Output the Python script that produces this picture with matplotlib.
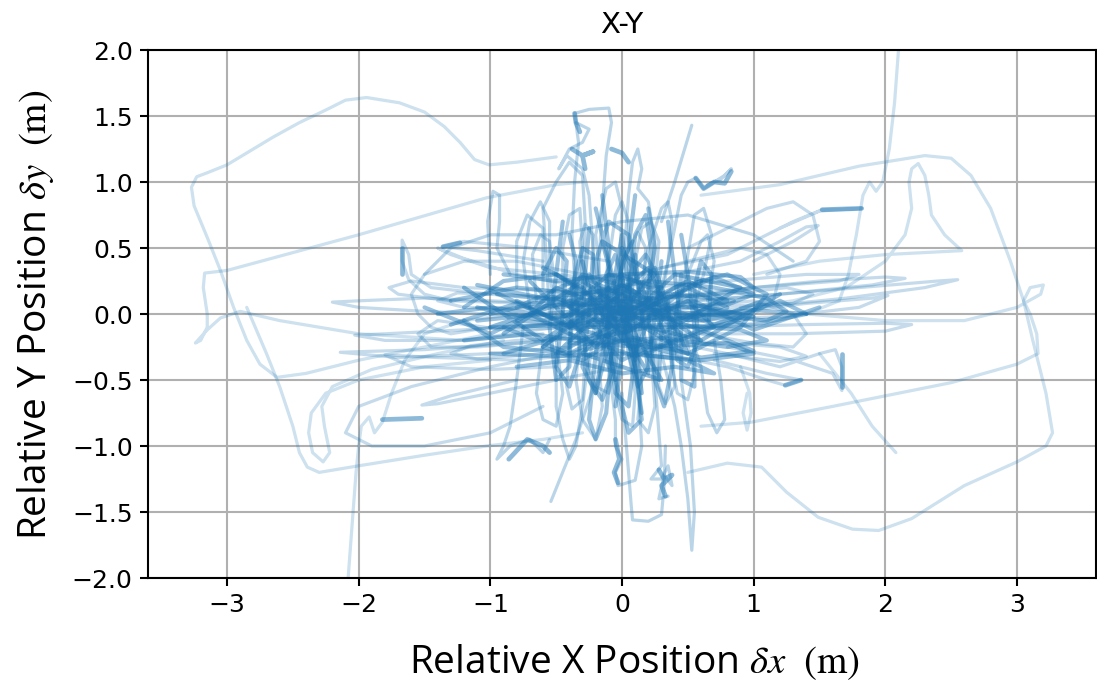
import matplotlib
matplotlib.use("Agg")
import matplotlib.pyplot as plt

# ---------------- data (metres) ----------------
title = "X-Y"
x_ticks = [-3, -2, -1, 0, 1, 2, 3]
y_ticks = [-2.0, -1.5, -1.0, -0.5, 0.0, 0.5, 1.0, 1.5, 2.0]

outer_paths = [
    [(-0.5,1.19),(-0.8,1.15),(-1.01,1.13),(-1.12,1.17),(-1.23,1.30),(-1.35,1.42),(-1.5,1.53),(-1.69,1.60),
     (-1.94,1.64),(-2.1,1.62),(-2.24,1.55),(-2.45,1.45),(-2.65,1.34),(-2.85,1.22),(-3.0,1.13),(-3.15,1.07),
     (-3.23,1.04),(-3.27,0.96),(-3.25,0.82),(-3.15,0.58),(-3.05,0.33),(-2.95,0.05),(-2.85,-0.2),(-2.75,-0.38),
     (-2.62,-0.48),(-2.4,-0.45),(-2.0,-0.35),(-1.5,-0.25),(-1.0,-0.15)],
    [(-0.3,1.0),(-0.5,0.98),(-1.03,0.88),(-2.0,0.6),(-3.0,0.33),(-3.17,0.31),(-3.18,0.2),(-3.15,0.0),
     (-3.15,-0.1),(-3.2,-0.2),(-3.24,-0.22),(-3.15,-0.12),(-3.05,-0.03),(-2.9,0.02),(-2.6,-0.05),(-2.0,-0.15),
     (-1.2,-0.2),(-0.5,-0.1)],
    [(-2.08,-2.0),(-2.05,-1.6),(-2.02,-1.2),(-2.0,-1.0),(-1.98,-0.85),(-1.92,-0.78),(-1.88,-0.9),(-1.82,-0.82),
     (-1.75,-0.6),(-1.65,-0.35),(-1.5,-0.15),(-1.2,-0.05),(-0.8,0.0)],
    [(-2.85,0.05),(-2.7,-0.3),(-2.6,-0.55),(-2.5,-0.85),(-2.45,-1.05),(-2.39,-1.16),(-2.3,-1.2),(-2.0,-1.15),
     (-1.5,-1.07),(-1.03,-1.0),(-0.6,-0.95),(-0.3,-0.9)],
    [(-1.0,-0.35),(-1.5,-0.4),(-2.0,-0.5),(-2.25,-0.6),(-2.36,-0.75),(-2.38,-0.9),(-2.35,-1.05),(-2.27,-1.12),
     (-2.22,-1.05),(-2.26,-0.85),(-2.28,-0.7),(-2.2,-0.55),(-1.9,-0.42),(-1.4,-0.3),(-0.9,-0.2)],
    [(2.1,2.0),(2.07,1.6),(2.03,1.25),(1.98,1.0),(1.93,0.93),(1.88,1.0),(1.83,0.9),(1.78,0.6),(1.72,0.3),
     (1.65,0.1),(1.4,0.0),(1.0,-0.05)],
    [(0.5,-1.2),(0.8,-1.13),(1.06,-1.16),(1.25,-1.35),(1.49,-1.54),(1.75,-1.63),(1.95,-1.64),(2.2,-1.55),
     (2.6,-1.3),(3.0,-1.12),(3.22,-1.0),(3.27,-0.9),(3.22,-0.6),(3.12,-0.2),(3.05,0.1),(2.95,0.4),(2.8,0.8),
     (2.65,1.05),(2.5,1.18),(2.3,1.2),(1.8,1.12),(1.2,0.98),(0.6,0.9)],
    [(0.6,-0.85),(0.98,-0.82),(1.6,-0.7),(2.5,-0.52),(3.0,-0.38),(3.16,-0.3),(3.15,-0.15),(3.1,0.0),(3.05,0.1),
     (3.1,0.2),(3.2,0.22),(3.18,0.15),(3.0,0.05),(2.6,-0.05),(2.0,-0.05),(1.4,0.0)],
    [(1.0,0.3),(1.5,0.4),(2.0,0.45),(2.58,0.48),(2.45,0.6),(2.35,0.75),(2.33,0.9),(2.3,1.05),(2.25,1.14),
     (2.2,1.1),(2.18,1.0),(2.2,0.8),(2.15,0.6),(2.0,0.4),(1.7,0.2),(1.3,0.1),(0.9,0.05)],
    [(1.5,-0.3),(1.74,-0.6),(1.9,-0.85),(2.08,-1.05)],
    [(0.95,-0.6),(0.92,-0.75),(0.95,-0.88),(0.98,-0.75),(0.97,-0.6),(0.9,-0.4)],
]

upper_arm = [
    [(-0.35,0.1),(-0.38,0.6),(-0.36,1.0),(-0.33,1.3),(-0.36,1.52),(-0.25,1.55),(-0.1,1.56),(-0.08,1.45),(-0.12,1.2),(-0.15,0.8),(-0.18,0.3)],
    [(-0.55,0.0),(-0.58,0.5),(-0.6,0.8),(-0.5,1.0),(-0.4,1.15),(-0.3,1.05),(-0.28,0.7),(-0.3,0.2)],
    [(-0.2,0.0),(-0.22,0.5),(-0.25,0.9),(-0.3,1.1),(-0.42,1.2),(-0.48,1.1),(-0.4,1.25),(-0.3,1.3),(-0.25,1.4),(-0.35,1.45)],
    [(0.0,0.0),(0.02,0.5),(0.05,0.9),(0.08,1.15),(0.12,1.25),(0.15,1.1),(0.12,0.95),(0.2,0.85),(0.25,0.55),(0.22,0.1)],
    [(0.1,0.0),(0.2,0.5),(0.3,0.8),(0.35,0.85),(0.38,0.7),(0.35,0.4),(0.3,0.1)],
    [(0.25,0.0),(0.35,0.4),(0.45,0.9),(0.5,1.0),(0.56,1.03),(0.62,0.95),(0.7,1.0),(0.78,1.05),(0.83,1.1),(0.75,1.02),(0.65,0.98)],
    [(-0.7,0.05),(-0.75,0.4),(-0.7,0.7),(-0.62,0.85),(-0.55,0.7),(-0.55,0.3),(-0.5,0.0)],
    [(-0.1,0.0),(-0.1,0.4),(-0.05,0.75),(0.0,0.85),(0.05,0.7),(0.05,0.3),(0.08,0.0)],
    [(0.4,0.0),(0.5,0.3),(0.6,0.55),(0.65,0.6),(0.7,0.4),(0.65,0.1)],
    [(0.3,0.7),(0.4,1.0),(0.53,1.43)],
    [(-0.45,0.0),(-0.45,0.5),(-0.4,0.75),(-0.32,0.8),(-0.3,0.5),(-0.35,0.1)],
    [(-0.15,0.1),(-0.2,0.6),(-0.12,0.95),(-0.05,1.0),(0.0,0.8),(-0.02,0.3)],
    [(0.15,0.0),(0.1,0.4),(0.15,0.65),(0.22,0.7),(0.28,0.55),(0.25,0.2)],
    [(-0.8,0.2),(-0.8,0.55),(-0.72,0.75),(-0.6,0.65),(-0.6,0.2)],
    [(-1.0,0.3),(-1.02,0.7),(-0.98,0.93),(-0.93,0.9),(-0.93,0.7),(-0.95,0.5),(-0.85,0.3)],
    [(0.45,0.1),(0.5,0.45),(0.55,0.75),(0.62,0.8),(0.68,0.6),(0.62,0.3),(0.55,0.05)],
    [(-1.5,0.3),(-1.3,0.5),(-1.0,0.6),(-0.5,0.6),(0.0,0.7),(0.5,0.75),(1.0,0.6),(1.3,0.4)],
    [(-0.65,0.1),(-0.68,0.45),(-0.62,0.6),(-0.55,0.55),(-0.52,0.3)],
    [(0.05,0.2),(0.08,0.55),(0.12,0.62),(0.18,0.5),(0.16,0.15)],
    [(-0.3,0.2),(-0.32,0.55),(-0.28,0.68),(-0.22,0.6),(-0.22,0.3)],
]

lower_arm = [
    [(-0.1,0.0),(-0.1,-0.4),(-0.05,-0.8),(-0.05,-1.0),(0.0,-1.1),(-0.05,-1.2),(-0.03,-1.3),(0.1,-1.26),(0.15,-1.0),(0.12,-0.5),(0.1,0.0)],
    [(0.2,0.0),(0.25,-0.5),(0.28,-0.9),(0.3,-1.15),(0.22,-1.25),(0.3,-1.25),(0.35,-1.15),(0.38,-1.3),(0.32,-1.22),(0.28,-1.4),(0.35,-1.38)],
    [(0.3,-0.3),(0.4,-0.7),(0.45,-1.0),(0.5,-1.4),(0.53,-1.79),(0.55,-1.5),(0.52,-1.0),(0.45,-0.5)],
    [(0.0,-0.6),(0.05,-1.2),(0.07,-1.45),(0.08,-1.56),(0.2,-1.57),(0.3,-1.52),(0.32,-1.3),(0.33,-1.0)],
    [(-0.5,-0.3),(-0.5,-0.7),(-0.45,-0.95),(-0.4,-1.1),(-0.35,-1.0),(-0.3,-0.7),(-0.25,-0.3)],
    [(-0.2,-0.5),(-0.35,-0.95),(-0.54,-1.42)],
    [(-0.3,0.0),(-0.35,-0.5),(-0.3,-0.8),(-0.2,-0.95),(-0.15,-0.7),(-0.18,-0.3)],
    [(-0.75,-0.1),(-0.8,-0.5),(-0.85,-0.85),(-0.9,-1.0),(-0.95,-1.1),(-0.85,-1.0),(-0.7,-0.95),(-0.6,-1.05),(-0.55,-0.95)],
    [(0.5,-0.1),(0.6,-0.4),(0.65,-0.75),(0.72,-0.9),(0.78,-0.8),(0.75,-0.5),(0.7,-0.2)],
    [(0.1,-0.1),(0.15,-0.5),(0.12,-0.8),(0.2,-0.9),(0.25,-0.7),(0.22,-0.3)],
    [(-0.6,-0.2),(-0.65,-0.6),(-0.6,-0.8),(-0.5,-0.85),(-0.45,-0.6),(-0.5,-0.2)],
    [(-0.2,0.0),(-0.25,-0.4),(-0.2,-0.55),(-0.1,-0.6),(-0.05,-0.4),(-0.1,-0.1)],
    [(0.35,-0.1),(0.38,-0.4),(0.42,-0.6),(0.5,-0.65),(0.55,-0.45),(0.48,-0.15)],
    [(0.0,-0.3),(-0.05,-0.6),(0.0,-0.8),(0.08,-0.85),(0.1,-0.6),(0.05,-0.3)],
    [(-0.4,-0.2),(-0.42,-0.55),(-0.38,-0.72),(-0.3,-0.65),(-0.28,-0.35)],
    [(0.25,-0.2),(0.28,-0.55),(0.33,-0.68),(0.4,-0.55),(0.38,-0.25)],
]

left_arm = [
    [(0.0,0.05),(-0.5,0.08),(-1.0,0.1),(-1.5,0.12),(-2.0,0.1),(-2.2,0.09),(-2.0,0.05),(-1.5,0.02),(-1.0,0.0),(-0.5,-0.02)],
    [(0.0,-0.05),(-0.6,-0.08),(-1.2,-0.12),(-1.8,-0.15),(-2.03,-0.16),(-1.8,-0.2),(-1.2,-0.2),(-0.6,-0.15)],
    [(0.0,-0.15),(-0.8,-0.22),(-1.5,-0.27),(-2.14,-0.29),(-1.7,-0.33),(-1.0,-0.3),(-0.4,-0.25)],
    [(0.0,0.15),(-0.6,0.18),(-1.2,0.2),(-1.6,0.25),(-1.77,0.2),(-1.7,0.15),(-1.3,0.1),(-0.7,0.08)],
    [(-0.2,-0.3),(-0.8,-0.35),(-1.4,-0.33),(-1.8,-0.31),(-1.6,-0.4),(-1.0,-0.42),(-0.5,-0.4)],
    [(0.0,0.25),(-0.5,0.3),(-1.0,0.35),(-1.3,0.45),(-1.4,0.5),(-1.2,0.42),(-0.8,0.3),(-0.3,0.2)],
    [(-0.3,0.3),(-0.8,0.4),(-1.2,0.4),(-1.5,0.3),(-1.6,0.15),(-1.55,0.0),(-1.45,-0.1),(-1.3,-0.15),(-1.0,-0.1)],
    [(-0.2,-0.1),(-0.9,-0.12),(-1.4,-0.05),(-1.55,-0.15),(-1.45,-0.25),(-1.1,-0.25),(-0.5,-0.2)],
    [(-1.3,0.1),(-1.5,0.15),(-1.62,0.26),(-1.67,0.4),(-1.67,0.56),(-1.62,0.45),(-1.6,0.3),(-1.45,0.2),(-1.0,0.15)],
    [(0.0,-0.4),(-0.5,-0.5),(-1.0,-0.6),(-1.4,-0.68),(-1.52,-0.69),(-1.3,-0.62),(-0.8,-0.5)],
    [(-0.5,-0.3),(-1.0,-0.4),(-1.6,-0.55),(-2.0,-0.7),(-2.1,-0.9),(-1.9,-1.0),(-1.5,-1.0),(-1.0,-0.9),(-0.6,-0.7)],
    [(-0.1,0.4),(-0.7,0.5),(-1.2,0.55),(-1.36,0.51),(-1.1,0.48),(-0.6,0.4)],
    [(-0.3,0.12),(-0.8,0.14),(-1.25,0.16),(-1.4,0.1),(-1.2,0.05),(-0.7,0.04)],
    [(-0.3,-0.18),(-0.8,-0.2),(-1.15,-0.24),(-1.3,-0.3),(-1.1,-0.34),(-0.6,-0.3)],
]

right_arm = [
    [(0.0,0.05),(0.6,0.1),(1.2,0.15),(1.8,0.2),(2.4,0.25),(2.55,0.26),(2.3,0.2),(1.7,0.12),(1.0,0.05),(0.4,0.0)],
    [(0.0,-0.05),(0.7,0.0),(1.4,0.08),(1.9,0.12),(2.02,0.14),(1.8,0.05),(1.2,-0.02),(0.5,-0.05)],
    [(0.1,0.1),(0.8,0.18),(1.5,0.25),(2.0,0.28),(2.15,0.27),(1.9,0.22),(1.2,0.15),(0.5,0.1)],
    [(0.0,-0.1),(0.7,-0.1),(1.4,-0.08),(2.0,-0.07),(2.2,-0.08),(2.0,-0.13),(1.3,-0.15),(0.6,-0.15)],
    [(0.2,0.2),(0.8,0.25),(1.4,0.3),(1.8,0.3),(1.65,0.25),(1.0,0.2)],
    [(0.3,0.35),(0.8,0.45),(1.1,0.6),(1.3,0.7),(1.52,0.79),(1.82,0.8),(1.5,0.78),(1.2,0.65)],
    [(0.4,0.3),(0.9,0.4),(1.2,0.55),(1.4,0.66),(1.49,0.67),(1.3,0.55),(1.0,0.4)],
    [(0.3,-0.2),(0.8,-0.3),(1.2,-0.4),(1.5,-0.3),(1.62,-0.27),(1.67,-0.4),(1.67,-0.58),(1.6,-0.45),(1.3,-0.35),(0.8,-0.25)],
    [(0.3,-0.3),(0.8,-0.4),(1.1,-0.5),(1.24,-0.54),(1.36,-0.5),(1.1,-0.45),(0.7,-0.35)],
    [(0.1,0.3),(0.5,0.4),(0.9,0.5),(1.1,0.45),(1.2,0.3),(1.15,0.1),(1.0,0.0),(0.6,-0.1)],
    [(0.5,0.05),(1.0,0.1),(1.3,0.0),(1.4,-0.15),(1.3,-0.25),(1.0,-0.22),(0.6,-0.15)],
    [(0.5,0.5),(0.9,0.7),(1.1,0.8),(1.3,0.85),(1.45,0.75),(1.5,0.55),(1.4,0.4),(1.1,0.3)],
    [(0.3,0.12),(0.8,0.15),(1.25,0.2),(1.45,0.15),(1.3,0.08),(0.8,0.06)],
    [(0.3,-0.2),(0.8,-0.22),(1.2,-0.25),(1.4,-0.32),(1.2,-0.36),(0.7,-0.3)],
]

core_scribbles = [
    [(-0.8,0.1),(-0.4,-0.1),(0.0,0.15),(0.4,-0.05),(0.8,0.1),(0.5,0.25),(0.0,0.0),(-0.5,0.2),(-0.7,0.0),(-0.3,-0.2),(0.2,-0.1),(0.6,-0.2)],
    [(-0.6,-0.25),(-0.2,0.05),(0.1,-0.3),(0.3,0.2),(-0.1,0.3),(-0.4,0.05),(0.0,-0.15),(0.5,0.1),(0.7,-0.1),(0.3,-0.25)],
    [(-0.3,0.4),(-0.1,-0.4),(0.1,0.45),(0.2,-0.45),(-0.2,0.2),(0.3,0.1),(-0.4,-0.1),(0.4,-0.3),(0.0,0.5),(-0.05,-0.5)],
    [(-1.0,0.0),(-0.5,0.12),(0.0,-0.05),(0.5,0.08),(1.0,-0.02),(0.6,-0.12),(0.0,0.08),(-0.6,-0.05),(-1.1,0.05)],
    [(-0.2,-0.6),(0.0,0.6),(0.15,-0.6),(-0.15,0.55),(0.25,0.3),(-0.3,-0.3),(0.3,-0.5),(-0.1,0.2)],
    [(-0.9,-0.15),(-0.3,0.25),(0.3,-0.15),(0.9,0.2),(0.4,0.3),(-0.2,-0.25),(-0.7,0.25)],
    [(-0.5,0.3),(0.5,-0.3),(0.2,0.35),(-0.5,-0.3),(0.6,0.25),(-0.1,-0.1),(0.0,0.3),(0.1,-0.35)],
    [(-1.2,0.2),(-0.6,-0.2),(0.0,0.2),(0.6,-0.2),(1.2,0.15),(0.8,0.0),(0.2,-0.05),(-0.4,0.1),(-1.0,-0.1)],
]

core_vertical = [
    [(-0.4,-0.3),(-0.38,0.2),(-0.3,0.5),(-0.22,0.45),(-0.25,0.0),(-0.3,-0.4),(-0.2,-0.6),(-0.12,-0.3),(-0.1,0.3)],
    [(0.3,0.4),(0.25,0.0),(0.2,-0.4),(0.12,-0.55),(0.05,-0.3),(0.02,0.2),(-0.05,0.45),(-0.12,0.3),(-0.1,-0.2)],
    [(-0.05,-0.7),(0.0,-0.3),(0.05,0.1),(0.1,0.6),(0.18,0.75),(0.22,0.5),(0.2,0.0),(0.25,-0.5),(0.32,-0.7),(0.38,-0.4),(0.35,0.1)],
    [(-0.6,0.3),(-0.5,0.5),(-0.42,0.4),(-0.45,0.0),(-0.5,-0.4),(-0.4,-0.55),(-0.32,-0.3),(-0.35,0.2)],
    [(0.45,0.3),(0.4,-0.1),(0.42,-0.35),(0.5,-0.4),(0.58,-0.2),(0.55,0.2),(0.6,0.4),(0.68,0.3),(0.66,-0.05)],
    [(-0.25,0.65),(-0.28,0.3),(-0.3,-0.1),(-0.25,-0.5),(-0.15,-0.65),(-0.08,-0.45),(-0.05,0.0),(0.0,0.4),(0.08,0.55)],
    [(0.15,-0.75),(0.1,-0.4),(0.05,0.0),(0.1,0.35),(0.18,0.45),(0.26,0.3),(0.3,-0.1),(0.28,-0.5)],
    [(-0.15,0.9),(-0.1,0.5),(-0.12,0.1),(-0.2,-0.3),(-0.25,-0.8),(-0.2,-0.95),(-0.12,-0.75),(-0.08,-0.3)],
    [(-0.2,0.8),(-0.1,0.4),(0.0,0.0),(0.1,-0.4),(0.15,-0.8),(0.05,-0.9),(-0.05,-0.5),(-0.15,0.0),(-0.2,0.4),(-0.1,0.7),(0.05,0.6),(0.12,0.2)],
    [(0.1,0.9),(0.05,0.5),(-0.05,0.2),(-0.1,-0.2),(-0.05,-0.6),(0.05,-0.7),(0.1,-0.3),(0.18,0.1),(0.25,0.5),(0.2,0.8)],
    [(-0.45,0.7),(-0.5,0.3),(-0.55,-0.1),(-0.5,-0.5),(-0.4,-0.4),(-0.38,0.0),(-0.35,0.4),(-0.4,0.6)],
    [(0.35,0.7),(0.4,0.3),(0.45,-0.1),(0.45,-0.5),(0.55,-0.55),(0.55,-0.1),(0.5,0.3),(0.45,0.6)],
]

core_horizontal = [
    [(-1.3,0.1),(-0.8,0.2),(-0.3,0.15),(0.2,0.25),(0.7,0.2),(1.1,0.12),(1.25,0.02),(1.1,-0.05),(0.6,0.0),(0.0,0.05),(-0.6,0.0),(-1.1,-0.05)],
    [(-1.2,-0.2),(-0.7,-0.15),(-0.2,-0.22),(0.3,-0.18),(0.8,-0.25),(1.1,-0.2),(0.9,-0.12),(0.4,-0.08),(-0.2,-0.1),(-0.8,-0.05)],
    [(-0.9,0.3),(-0.5,0.25),(0.0,0.3),(0.5,0.32),(0.9,0.28),(1.0,0.2),(0.7,0.15),(0.2,0.12),(-0.4,0.1),(-0.95,0.15)],
    [(-1.0,-0.3),(-0.5,-0.32),(0.0,-0.3),(0.6,-0.35),(1.0,-0.3),(0.8,-0.22),(0.2,-0.25),(-0.4,-0.22)],
    [(-0.7,0.05),(-0.3,0.08),(0.1,0.02),(0.5,0.05),(0.9,0.0),(0.6,-0.05),(0.2,-0.03),(-0.3,-0.05),(-0.75,-0.1)],
    [(-1.4,0.0),(-1.0,0.05),(-0.5,-0.02),(0.0,0.02),(0.5,-0.02),(1.0,0.03),(1.4,0.0),(1.0,-0.08),(0.4,-0.1),(-0.3,-0.08),(-1.0,-0.1)],
    [(-1.1,0.22),(-0.6,0.12),(-0.1,0.18),(0.4,0.15),(0.85,0.1),(0.5,0.05),(0.0,0.1),(-0.5,0.05)],
    [(-0.8,-0.4),(-0.4,-0.35),(0.0,-0.45),(0.4,-0.4),(0.7,-0.45),(0.5,-0.35),(0.1,-0.3)],
    [(-1.2,0.05),(-0.9,0.25),(-0.5,0.3),(-0.2,0.1),(0.1,-0.2),(0.5,-0.3),(0.9,-0.1),(1.1,0.15),(0.8,0.3),(0.4,0.2),(0.0,-0.1),(-0.4,-0.3),(-0.9,-0.25),(-1.2,-0.05)],
    [(-0.6,0.35),(-0.3,0.2),(-0.1,-0.05),(0.1,-0.25),(0.4,-0.15),(0.3,0.15),(0.0,0.3),(-0.3,0.0),(-0.6,-0.25),(-0.3,-0.35),(0.1,-0.1),(0.5,0.2),(0.8,0.05)],
    [(-0.5,-0.1),(-0.2,0.15),(0.2,0.05),(0.45,-0.15),(0.2,-0.3),(-0.15,-0.15),(-0.45,0.1),(-0.3,0.3),(0.05,0.2),(0.35,0.0)],
    [(-1.0,0.18),(-0.5,-0.05),(0.0,0.22),(0.5,-0.05),(1.0,0.15),(0.7,0.28),(0.2,0.05),(-0.3,0.28),(-0.8,0.05)],
    [(-0.9,-0.3),(-0.4,-0.15),(0.1,-0.32),(0.6,-0.12),(1.0,-0.28),(0.6,-0.33),(0.1,-0.18),(-0.4,-0.3),(-0.9,-0.1)],
    [(-0.35,0.0),(-0.25,0.3),(-0.1,0.1),(0.0,-0.2),(0.1,0.15),(0.25,0.35),(0.35,0.05),(0.2,-0.25),(0.0,-0.35),(-0.2,-0.15)],
    [(-1.5,0.05),(-1.0,-0.15),(-0.5,0.1),(0.0,-0.12),(0.5,0.12),(1.0,-0.12),(1.5,0.05)],
    [(-1.3,-0.08),(-0.8,0.08),(-0.3,-0.12),(0.2,0.1),(0.7,-0.08),(1.2,0.1),(1.4,0.0)],
]

dwell_segments = [
    [(-0.36,1.52),(-0.35,1.45),(-0.32,1.38)],
    [(-0.38,1.25),(-0.3,1.2),(-0.22,1.23),(-0.3,1.2),(-0.28,1.1)],
    [(0.56,1.03),(0.62,0.95),(0.7,1.0),(0.78,0.99),(0.83,1.08)],
    [(0.28,-1.18),(0.32,-1.25),(0.38,-1.22),(0.3,-1.3),(0.33,-1.38)],
    [(-0.05,-0.95),(-0.02,-1.1),(-0.06,-1.2),(-0.03,-1.28)],
    [(-1.36,0.51),(-1.23,0.54)],
    [(-1.67,0.3),(-1.67,0.5)],
    [(-1.82,-0.8),(-1.52,-0.79)],
    [(1.52,0.79),(1.82,0.8)],
    [(1.67,-0.3),(1.67,-0.55)],
    [(1.24,-0.54),(1.36,-0.5)],
    [(-0.86,-1.1),(-0.72,-0.95),(-0.6,-1.0),(-0.55,-1.05)],
    [(-0.08,1.25),(0.0,1.22),(0.05,1.15)],
    [(0.0,0.1),(0.05,-0.1),(-0.05,0.05),(0.1,0.0)],
]

# ---------------- figure ----------------
plt.rcParams['mathtext.fontset'] = 'stix'
fig = plt.figure(figsize=(10.97, 6.91), dpi=100)
ax = fig.add_axes([148/1097, 1-578/691, (1096-148)/1097, (578-50)/691])

C = '#1f77b4'

def draw(paths, alpha, lw):
    for p in paths:
        xs = [q[0] for q in p]
        ys = [q[1] for q in p]
        ax.plot(xs, ys, color=C, alpha=alpha, lw=lw, solid_capstyle='round',
                solid_joinstyle='round')

draw(outer_paths, 0.22, 2.3)
draw(upper_arm, 0.3, 2.3)
draw(lower_arm, 0.3, 2.3)
draw(left_arm, 0.26, 2.3)
draw(right_arm, 0.26, 2.3)
draw(core_scribbles, 0.5, 3.0)
draw(core_vertical, 0.45, 3.0)
draw(core_horizontal, 0.45, 3.0)
draw(dwell_segments, 0.5, 3.4)

ax.set_xlim(-3.6, 3.6)
ax.set_ylim(-2.0, 2.0)
ax.set_xticks(x_ticks)
ax.set_yticks(y_ticks)
ax.set_xticklabels([f"\u2212{abs(v)}" if v < 0 else f"{v}" for v in x_ticks], fontsize=18)
ax.set_yticklabels([f"\u2212{abs(v):.1f}" if v < 0 else f"{v:.1f}" for v in y_ticks], fontsize=18)
ax.tick_params(length=6, width=1.5, colors='black', pad=5)
ax.grid(True, color='#b0b0b0', lw=1.5)
ax.set_axisbelow(True)
for s in ax.spines.values():
    s.set_linewidth(1.5)

fig.text(622/1097, 1-33/691, title, ha='center', va='baseline', fontsize=21,
         family='DejaVu Sans')

fig.text(635/1097, 1-662/691, r"Relative X Position $\delta x\ \ \mathrm{(m)}$",
         ha='center', va='center', fontsize=28, family='Open Sans')
fig.text(36/1097, 1-315/691, r"Relative Y Position $\delta y\ \ \mathrm{(m)}$",
         ha='center', va='center', fontsize=28, family='Open Sans', rotation=90)

fig.savefig("out.png", dpi=100)
